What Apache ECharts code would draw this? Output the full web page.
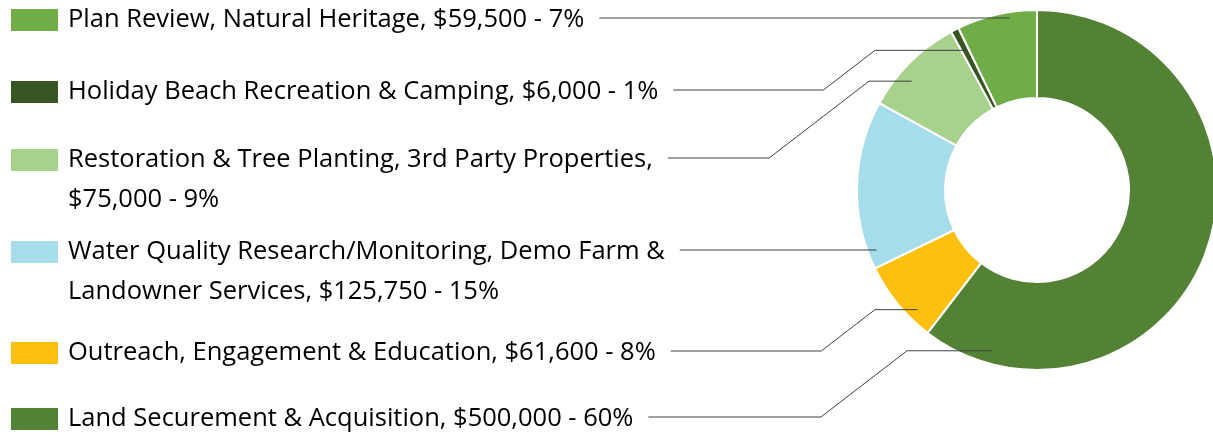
<!DOCTYPE html>
<html>
<head>
<meta charset="utf-8">
<script src="https://cdn.jsdelivr.net/npm/echarts@6/dist/echarts.min.js"></script>
<style>
html, body { margin: 0; padding: 0; background: #fff; }
#chart { width: 1213px; height: 435px; }
</style>
</head>
<body>
<div id="chart"></div>
<script>
// 数据 (clockwise from 12 o'clock)
const names = [
    'Land Securement & Acquisition',
    'Outreach, Engagement & Education',
    'Water Quality Research/Monitoring, Demo Farm & Landowner Services',
    'Restoration & Tree Planting, 3rd Party Properties',
    'Holiday Beach Recreation & Camping',
    'Plan Review, Natural Heritage'
];
const amounts = [500000, 61600, 125750, 75000, 6000, 59500];
const labelText = [
    'Land Securement & Acquisition, $500,000 - 60%',
    'Outreach, Engagement & Education, $61,600 - 8%',
    'Water Quality Research/Monitoring, Demo Farm &\nLandowner Services, $125,750 - 15%',
    'Restoration & Tree Planting, 3rd Party Properties,\n$75,000 - 9%',
    'Holiday Beach Recreation & Camping, $6,000 - 1%',
    'Plan Review, Natural Heritage, $59,500 - 7%'
];
const colors = ['#548235', '#FDC010', '#A6DDEA', '#A9D18E', '#375623', '#70AD47'];

const dom = document.getElementById('chart');
const myChart = echarts.init(dom);

// 饼图位置
const cx = 1037, cy = 190;
const rIn = 92, rOut = 180;
const total = amounts.reduce((a, b) => a + b, 0);

// 引线: 标签首行y, 折点x, 锚点在扇区内的位置
const leader = [
    { y: 417, bend: 907, frac: 0.9, r: 167 },
    { y: 351, bend: 875, frac: 0.28, r: 169 },
    { y: 250, bend: null, frac: 0.1, r: 171 },
    { y: 158, bend: 869, frac: 0.37, r: 166 },
    { y: 90, bend: 875, frac: 0.5, r: 157 },
    { y: 18, bend: null, frac: 0.65, r: 174 }
];
const labelX = 11;
const lineH = 40;

const rich = {
    t: { fontFamily: 'Open Sans', fontSize: 25.5, color: '#000', padding: [0, 0, 0, 10], lineHeight: lineH },
    sp: { width: 47, height: 22 }
};
colors.forEach((c, i) => {
    rich['b' + i] = { width: 47, height: 22, backgroundColor: c };
});

const pieData = names.map((n, i) => ({ name: n, value: amounts[i], itemStyle: { color: colors[i] } }));

const option = {
    backgroundColor: '#fff',
    animation: false,
    series: [{
        // 扇区
        type: 'pie',
        center: [cx, cy],
        radius: [rIn, rOut],
        startAngle: 90,
        clockwise: true,
        itemStyle: { borderColor: '#fff', borderWidth: 2 },
        emphasis: { scale: false },
        label: { show: false },
        labelLine: { show: false },
        data: pieData
    }, {
        // 标签和引线, 画在扇区上面
        type: 'pie',
        z: 3,
        silent: true,
        center: [cx, cy],
        radius: [rIn, rOut],
        startAngle: 90,
        clockwise: true,
        avoidLabelOverlap: false,
        itemStyle: { color: 'rgba(0,0,0,0)', borderWidth: 0 },
        emphasis: { scale: false },
        label: {
            show: true,
            position: 'outside',
            formatter: p => labelText[p.dataIndex].split('\n')
                .map((l, k) => (k === 0 ? '{b' + p.dataIndex + '|}' : '{sp|}') + '{t|' + l + '}')
                .join('\n'),
            rich: rich
        },
        labelLine: {
            show: true,
            smooth: false,
            lineStyle: { color: '#404040', width: 1 }
        },
        labelLayout: function (params) {
            const i = params.dataIndex;
            const g = leader[i];
            let start = 0;
            for (let k = 0; k < i; k++) start += amounts[k];
            const ang = (start + amounts[i] * g.frac) / total * Math.PI * 2;
            const ax = cx + g.r * Math.sin(ang);
            const ay = cy - g.r * Math.cos(ang);
            const endX = labelX + params.labelRect.width + 15;
            let pts;
            if (g.bend == null) {
                pts = [[ax, g.y], [endX, g.y]];
            } else {
                const dx = 1.3 * Math.abs(g.y - ay);
                pts = [[ax, ay], [g.bend, ay], [g.bend - dx, g.y], [endX, g.y]];
            }
            return {
                x: labelX,
                y: g.y + 2 - lineH / 2,
                align: 'left',
                verticalAlign: 'top',
                labelLinePoints: pts
            };
        },
        data: names.map((n, i) => ({ name: n, value: amounts[i] }))
    }]
};

myChart.setOption(option);

window.addEventListener('resize', function () {
    myChart.resize();
});
</script>
</body>
</html>
